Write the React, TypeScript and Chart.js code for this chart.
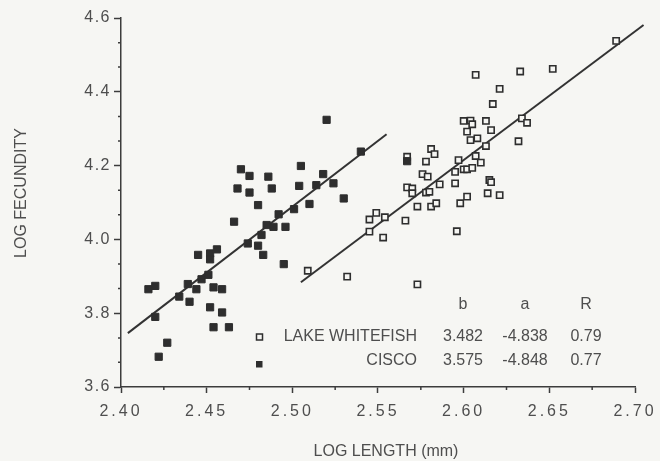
import React, { useEffect, useRef } from "react";
import { Chart, registerables } from "chart.js";

Chart.register(...registerables);

// ---- axis ranges and ticks ----
const xRange = [2.4, 2.7];
const yRange = [3.6, 4.6];
const xStep = 0.05;
const yStep = 0.2;
const xMinorTicks = [2.425, 2.475, 2.525, 2.575, 2.625, 2.675];
const yMinorTicks = [3.667, 3.733, 3.867, 3.933, 4.067, 4.133, 4.267, 4.333, 4.467, 4.533];

// ---- CISCO (filled squares) ----
const ciscoLength = [
  2.416, 2.420, 2.420, 2.427, 2.422, 2.434, 2.439, 2.440, 2.444, 2.447,
  2.451, 2.445, 2.452, 2.452, 2.456, 2.454, 2.459, 2.452, 2.459, 2.454,
  2.463, 2.466, 2.470, 2.475, 2.468, 2.475, 2.486, 2.488, 2.480, 2.474,
  2.480, 2.483, 2.482, 2.485, 2.489, 2.492, 2.496, 2.495, 2.501, 2.504,
  2.505, 2.510, 2.514, 2.518, 2.524, 2.530, 2.540, 2.520, 2.567,
];
const ciscoFecundity = [
  3.865, 3.874, 3.790, 3.720, 3.682, 3.845, 3.879, 3.831, 3.865, 3.892,
  3.904, 3.958, 3.962, 3.946, 3.973, 3.870, 3.865, 3.816, 3.802, 3.762,
  3.762, 4.048, 4.190, 4.172, 4.138, 4.127, 4.170, 4.138, 4.093, 3.989,
  3.983, 3.958, 4.012, 4.039, 4.034, 4.068, 4.034, 3.933, 4.082, 4.145,
  4.199, 4.096, 4.147, 4.177, 4.152, 4.111, 4.238, 4.324, 4.212,
];

// ---- LAKE WHITEFISH (open squares) ----
const whitefishLength = [
  2.509, 2.532, 2.573, 2.545, 2.549, 2.554, 2.545, 2.553, 2.566, 2.567,
  2.567, 2.570, 2.570, 2.573, 2.576, 2.579, 2.578, 2.581, 2.583, 2.578,
  2.580, 2.581, 2.584, 2.586, 2.595, 2.595, 2.597, 2.596, 2.598, 2.602,
  2.600, 2.602, 2.605, 2.607, 2.610, 2.613, 2.604, 2.608, 2.602, 2.600,
  2.604, 2.605, 2.613, 2.616, 2.615, 2.616, 2.614, 2.621, 2.617, 2.621,
  2.607, 2.633, 2.632, 2.634, 2.637, 2.652, 2.689,
];
const whitefishFecundity = [
  3.915, 3.899, 3.878, 4.054, 4.072, 4.060, 4.021, 4.005, 4.051, 4.224,
  4.141, 4.138, 4.125, 4.089, 4.177, 4.170, 4.211, 4.245, 4.231, 4.127,
  4.129, 4.089, 4.098, 4.149, 4.152, 4.183, 4.215, 4.022, 4.098, 4.116,
  4.190, 4.190, 4.194, 4.226, 4.208, 4.253, 4.269, 4.274, 4.292, 4.321,
  4.322, 4.312, 4.321, 4.296, 4.161, 4.155, 4.125, 4.120, 4.367, 4.408,
  4.446, 4.455, 4.266, 4.328, 4.316, 4.462, 4.538,
];

// ---- regression line end points ----
const whitefishFitLength = [2.505, 2.705];
const whitefishFitFecundity = [3.884, 4.581];
const ciscoFitLength = [2.404, 2.555];
const ciscoFitFecundity = [3.746, 4.285];

// ---- statistics table ----
const statHeaders = ["b", "a", "R"];
const statNames = ["LAKE WHITEFISH", "CISCO"];
const statB = ["3.482", "3.575"];
const statA = ["-4.838", "-4.848"];
const statR = ["0.79", "0.77"];

const xTitle = "LOG LENGTH (mm)";
const yTitle = "LOG FECUNDITY";

const FONT = "'Liberation Sans', Arial, Helvetica, sans-serif";
const BG = "#f6f6f3";
const TEXT = "#4e4e4e";
const INK = "#2e2e2e";
const AXIS = "#3c3c3c";

const toPts = (xs: number[], ys: number[]) => xs.map((x, i) => ({ x, y: ys[i] }));

const paperPlugin = {
  id: "paper",
  afterLayout(chart: any) {
    const spacing: Record<string, number> = { x: 3, y: 1.5 };
    for (const id of ["x", "y"]) {
      const s = chart.scales[id];
      if (s && !s.__spaced) {
        const orig = s.drawLabels.bind(s);
        s.drawLabels = (area: any) => {
          const c = chart.ctx;
          c.save();
          (c as any).letterSpacing = spacing[id] + "px";
          orig(area);
          c.restore();
        };
        s.__spaced = true;
      }
    }
  },
  beforeDraw(chart: any) {
    const c = chart.ctx;
    c.save();
    c.fillStyle = BG;
    c.fillRect(0, 0, chart.width, chart.height);
    c.restore();
  },
  afterDraw(chart: any) {
    const c = chart.ctx;
    const xs = chart.scales.x;
    const ys = chart.scales.y;
    const area = chart.chartArea;
    c.save();
    // minor ticks
    c.strokeStyle = AXIS;
    c.lineWidth = 1.5;
    c.beginPath();
    for (const v of xMinorTicks) {
      const px = xs.getPixelForValue(v);
      c.moveTo(px, area.bottom);
      c.lineTo(px, area.bottom + 3);
    }
    for (const v of yMinorTicks) {
      const py = ys.getPixelForValue(v);
      c.moveTo(area.left, py);
      c.lineTo(area.left - 3, py);
    }
    c.stroke();

    // axis titles
    c.fillStyle = TEXT;
    c.font = `16px ${FONT}`;
    c.textAlign = "center";
    c.textBaseline = "middle";
    c.fillText(xTitle, 386, 452);
    c.save();
    c.translate(22, 193);
    c.rotate(-Math.PI / 2);
    c.fillText(yTitle, 0, 0);
    c.restore();

    // statistics table
    const colX = [463, 525, 586];
    const headerY = 305;
    const rowY = [337, 361];
    statHeaders.forEach((h, i) => c.fillText(h, colX[i], headerY));
    c.textAlign = "right";
    statNames.forEach((n, i) => c.fillText(n, 417, rowY[i]));
    c.textAlign = "center";
    [statB, statA, statR].forEach((col, ci) => {
      col.forEach((v, ri) => c.fillText(v, colX[ci], rowY[ri]));
    });
    // markers
    c.lineWidth = 1.5;
    c.strokeStyle = INK;
    c.fillStyle = BG;
    c.fillRect(256.5, 334, 6, 6);
    c.strokeRect(256.5, 334, 6, 6);
    c.fillStyle = INK;
    c.fillRect(256, 361, 6.5, 6.5);
    c.restore();
  },
};

export default function App() {
  const ref = useRef<HTMLCanvasElement | null>(null);
  useEffect(() => {
    if (!ref.current) return;
    const chart = new Chart(ref.current, {
      type: "scatter",
      data: {
        datasets: [
          {
            label: "CISCO",
            data: toPts(ciscoLength, ciscoFecundity),
            pointStyle: "rect",
            pointRadius: 5.1,
            backgroundColor: INK,
            borderColor: INK,
            borderWidth: 1,
          },
          {
            label: "LAKE WHITEFISH",
            data: toPts(whitefishLength, whitefishFecundity),
            pointStyle: "rect",
            pointRadius: 4.4,
            backgroundColor: BG,
            borderColor: INK,
            borderWidth: 1.6,
          },
          {
            label: "whitefish fit",
            data: toPts(whitefishFitLength, whitefishFitFecundity),
            showLine: true,
            pointRadius: 0,
            borderColor: "#333",
            borderWidth: 2,
            clip: false,
          } as any,
          {
            label: "cisco fit",
            data: toPts(ciscoFitLength, ciscoFitFecundity),
            showLine: true,
            pointRadius: 0,
            borderColor: "#333",
            borderWidth: 2,
            clip: false,
          } as any,
        ],
      },
      options: {
        responsive: false,
        animation: false,
        devicePixelRatio: 1,
        layout: { padding: { left: 0, right: 25, top: 18, bottom: 0 } },
        plugins: {
          legend: { display: false },
          tooltip: { enabled: false },
        },
        scales: {
          x: {
            type: "linear",
            min: xRange[0],
            max: xRange[1],
            afterFit: (s: any) => {
              s.height = 74;
            },
            border: { display: true, color: AXIS, width: 1.5 },
            grid: {
              drawOnChartArea: false,
              drawTicks: true,
              tickLength: 6,
              tickColor: AXIS,
              tickWidth: 1.5,
            },
            ticks: {
              stepSize: xStep,
              autoSkip: false,
              maxRotation: 0,
              padding: 9,
              color: TEXT,
              font: { family: FONT, size: 16 },
              callback: (v: any) => Number(v).toFixed(2),
            },
          },
          y: {
            type: "linear",
            min: yRange[0],
            max: yRange[1],
            afterFit: (s: any) => {
              s.width = 121;
            },
            border: { display: true, color: AXIS, width: 1.5 },
            grid: {
              drawOnChartArea: false,
              drawTicks: true,
              tickLength: 7,
              tickColor: AXIS,
              tickWidth: 1.5,
            },
            ticks: {
              stepSize: yStep,
              autoSkip: false,
              padding: 3,
              color: TEXT,
              font: { family: FONT, size: 16 },
              callback: (v: any) => Number(v).toFixed(1),
            },
          },
        },
      },
      plugins: [paperPlugin],
    } as any);
    return () => chart.destroy();
  }, []);
  return (
    <div style={{ position: "fixed", left: 0, top: 0, width: 660, height: 461, background: BG }}>
      <canvas ref={ref} width={660} height={461} style={{ display: "block" }} />
    </div>
  );
}
